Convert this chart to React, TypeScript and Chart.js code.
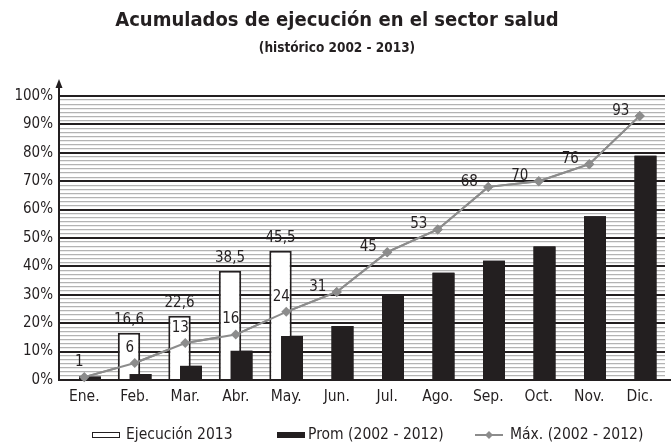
import React, { useEffect, useRef } from 'react';
import { Chart, registerables } from 'chart.js';

Chart.register(...registerables);

const TITLE = 'Acumulados de ejecución en el sector salud';
const SUBTITLE = '(histórico 2002 - 2013)';
const months = ['Ene.', 'Feb.', 'Mar.', 'Abr.', 'May.', 'Jun.', 'Jul.', 'Ago.', 'Sep.', 'Oct.', 'Nov.', 'Dic.'];
const ejecucion2013: (number | null)[] = [null, 16.6, 22.6, 38.5, 45.5, null, null, null, null, null, null, null];
const promedio = [1.2, 2.1, 5, 10.3, 15.5, 19, 30, 37.8, 42, 47, 57.7, 79];
const maximo = [1, 6, 13, 16, 24, 31, 45, 53, 68, 70, 76, 93];
const seriesNames = ['Ejecución 2013', 'Prom (2002 - 2012)', 'Máx. (2002 - 2012)'];
const Y_MAX = 100;
const MAJOR_STEP = 10;
const MINOR_PER_MAJOR = 7;

const FONT = '"DejaVu Sans Condensed", "DejaVu Sans", sans-serif';
const DARK = '#231f20';
const GRAY = '#8c8c8c';

const fmt = (v: number) => String(v).replace('.', ',');

const decorPlugin = {
  id: 'decor',
  afterDatasetsDraw(chart: any) {
    const ctx = chart.ctx as CanvasRenderingContext2D;
    const area = chart.chartArea;
    // black bars drawn over the white ones
    ctx.save();
    ctx.beginPath();
    ctx.rect(area.left, area.top, area.right - area.left, area.bottom - area.top);
    ctx.clip();
    chart.getDatasetMeta(1).data.forEach((el: any) => el.draw(ctx));
    ctx.restore();
    // line on top
    chart.getDatasetMeta(2).controller.draw();

    ctx.save();
    ctx.font = `15px ${FONT}`;
    ctx.fillStyle = DARK;
    ctx.textAlign = 'center';
    ctx.textBaseline = 'bottom';
    chart.getDatasetMeta(0).data.forEach((el: any, i: number) => {
      const v = ejecucion2013[i];
      if (v == null) return;
      ctx.fillText(fmt(v), el.x, el.y - 5);
    });
    ctx.textBaseline = 'middle';
    chart.getDatasetMeta(2).data.forEach((el: any, i: number) => {
      const nearBar = i === 0 || ejecucion2013[i] != null;
      const dx = nearBar ? -5 : -19;
      const dy = nearBar ? -15 : -5;
      ctx.fillText(fmt(maximo[i]), el.x + dx, el.y + dy);
    });
    ctx.restore();
  },
  afterDraw(chart: any) {
    const ctx = chart.ctx as CanvasRenderingContext2D;
    const area = chart.chartArea;
    const W = chart.width;
    ctx.save();
    // titles
    ctx.fillStyle = DARK;
    ctx.textAlign = 'center';
    ctx.textBaseline = 'middle';
    ctx.font = `bold 20px ${FONT}`;
    ctx.fillText(TITLE, 337, 21);
    ctx.font = `bold 13.5px ${FONT}`;
    ctx.fillText(SUBTITLE, 337, 48);

    // y axis arrow
    ctx.strokeStyle = DARK;
    ctx.lineWidth = 2;
    ctx.beginPath();
    ctx.moveTo(area.left, area.top);
    ctx.lineTo(area.left, area.top - 10);
    ctx.stroke();
    ctx.beginPath();
    ctx.moveTo(area.left, area.top - 17);
    ctx.lineTo(area.left - 3.5, area.top - 8);
    ctx.lineTo(area.left + 3.5, area.top - 8);
    ctx.closePath();
    ctx.fillStyle = DARK;
    ctx.fill();
    // x axis extension
    ctx.beginPath();
    ctx.moveTo(area.right - 1, area.bottom);
    ctx.lineTo(W, area.bottom);
    ctx.stroke();

    // legend
    const ly = 435;
    ctx.font = `15.5px ${FONT}`;
    ctx.textAlign = 'left';
    ctx.textBaseline = 'middle';
    // item 1
    ctx.lineWidth = 1;
    ctx.fillStyle = '#ffffff';
    ctx.fillRect(92.5, ly - 2.5, 27, 5);
    ctx.strokeStyle = DARK;
    ctx.strokeRect(92.5, ly - 2.5, 27, 5);
    ctx.fillStyle = DARK;
    ctx.fillText(seriesNames[0], 126, ly);
    // item 2
    ctx.fillRect(277, ly - 3, 28, 6);
    ctx.fillText(seriesNames[1], 308, ly);
    // item 3
    ctx.strokeStyle = GRAY;
    ctx.lineWidth = 2;
    ctx.beginPath();
    ctx.moveTo(475, ly);
    ctx.lineTo(503, ly);
    ctx.stroke();
    ctx.fillStyle = GRAY;
    ctx.beginPath();
    ctx.moveTo(489, ly - 4);
    ctx.lineTo(493, ly);
    ctx.lineTo(489, ly + 4);
    ctx.lineTo(485, ly);
    ctx.closePath();
    ctx.fill();
    ctx.fillStyle = DARK;
    ctx.fillText(seriesNames[2], 510, ly);
    ctx.restore();
  },
};

export default function App() {
  const ref = useRef<HTMLCanvasElement | null>(null);
  useEffect(() => {
    if (!ref.current) return;
    const chart = new Chart(ref.current, {
      type: 'bar',
      data: {
        labels: months,
        datasets: [
          {
            type: 'bar',
            label: seriesNames[0],
            data: ejecucion2013,
            backgroundColor: '#ffffff',
            borderColor: DARK,
            borderWidth: 2,
            categoryPercentage: 0.455,
            barPercentage: 1.95,
          },
          {
            type: 'bar',
            label: seriesNames[1],
            data: promedio,
            backgroundColor: DARK,
            borderColor: DARK,
            borderWidth: 0,
            categoryPercentage: 0.455,
            barPercentage: 1.91,
          },
          {
            type: 'line',
            label: seriesNames[2],
            data: maximo,
            borderColor: GRAY,
            backgroundColor: GRAY,
            borderWidth: 2,
            pointStyle: 'rectRot',
            pointRadius: 5,
            pointBackgroundColor: GRAY,
            pointBorderColor: GRAY,
            pointBorderWidth: 0,
            tension: 0,
          },
        ] as any,
      },
      options: {
        animation: false,
        responsive: true,
        maintainAspectRatio: false,
        layout: { padding: { top: 96, right: 6, left: 0, bottom: 0 } },
        plugins: {
          legend: { display: false },
          title: { display: false },
          tooltip: { enabled: false },
        },
        scales: {
          x: {
            afterFit: (s: any) => {
              s.height = 67;
            },
            grid: { display: false, drawTicks: false },
            border: { display: true, color: DARK, width: 2 },
            ticks: { padding: 8, color: DARK, font: { family: FONT, size: 15.5 } },
          },
          y: {
            min: 0,
            max: Y_MAX,
            afterFit: (s: any) => {
              s.width = 59;
            },
            afterBuildTicks: (s: any) => {
              const n = (Y_MAX / MAJOR_STEP) * MINOR_PER_MAJOR;
              const t = [];
              for (let i = 0; i <= n; i++) t.push({ value: (i * MAJOR_STEP) / MINOR_PER_MAJOR });
              s.ticks = t;
            },
            grid: {
              drawTicks: false,
              color: (c: any) => (c.index % MINOR_PER_MAJOR === 0 ? DARK : '#b3b3b3'),
              lineWidth: (c: any) => (c.index % MINOR_PER_MAJOR === 0 ? 2 : 1.2),
            },
            border: { display: true, color: DARK, width: 2 },
            ticks: {
              autoSkip: false,
              padding: 6,
              color: DARK,
              font: { family: FONT, size: 15 },
              callback: (v: any) => {
                const r = Math.round(v);
                return Math.abs(v - r) < 1e-6 && r % MAJOR_STEP === 0 ? r + '%' : '';
              },
            },
          },
        },
      },
      plugins: [decorPlugin],
    });
    return () => chart.destroy();
  }, []);
  return (
    <div style={{ position: 'absolute', left: 0, top: 0, width: 671, height: 447, background: '#fff' }}>
      <canvas ref={ref} />
    </div>
  );
}
